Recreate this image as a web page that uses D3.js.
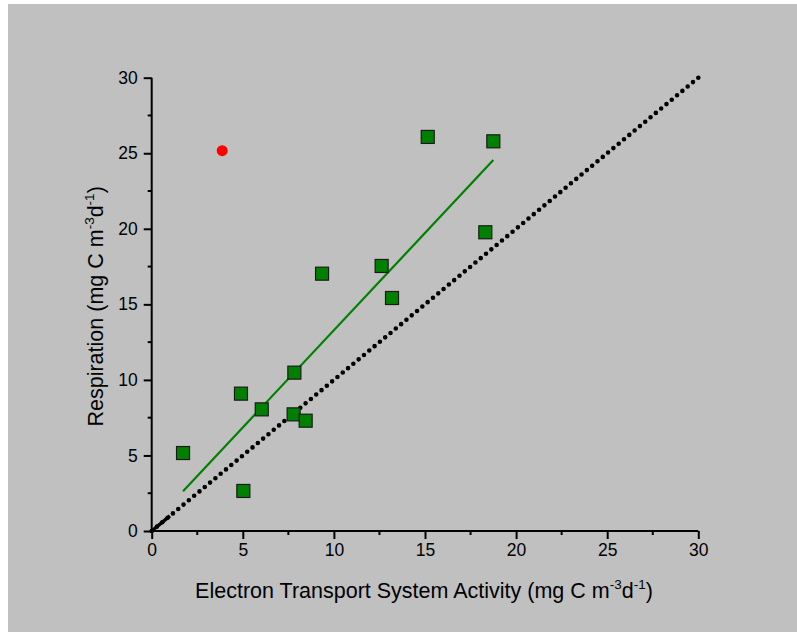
<!DOCTYPE html>
<html><head><meta charset="utf-8">
<script src="https://cdn.jsdelivr.net/npm/d3@7"></script>
<style>body{margin:0;background:#fff}svg{display:block}text{font-family:"Liberation Sans",Arial,sans-serif;fill:#000}</style>
</head><body>
<svg id="c" width="797" height="632"></svg>
<script>
const squareX = [1.72, 5.03, 4.90, 6.04, 7.83, 7.79, 8.45, 9.35, 12.62, 13.19, 15.15, 18.31, 18.75];
const squareY = [5.16, 2.65, 9.09, 8.05, 10.48, 7.72, 7.30, 17.03, 17.54, 15.42, 26.08, 19.77, 25.79];
const outlierX = [3.87];
const outlierY = [25.17];
const fitX = [1.72, 18.75];
const fitY = [2.63, 24.55];
const oneToOneX = [0, 30];
const oneToOneY = [0, 30];
const majorTicks = [0, 5, 10, 15, 20, 25, 30];
const minorTicks = [2.5, 7.5, 12.5, 17.5, 22.5, 27.5];

const svg = d3.select("#c");
svg.append("rect").attr("x", 8).attr("y", 4).attr("width", 789).attr("height", 628).attr("fill", "#c0c0c0");

const x = d3.scaleLinear().domain([0, 30]).range([151.7, 698.3]);
const y = d3.scaleLinear().domain([0, 30]).range([531, 77.7]);

// axes
const xAxis = d3.axisBottom(x).tickValues(majorTicks).tickSize(8).tickPadding(5).tickFormat(d3.format("d"));
const yAxis = d3.axisLeft(y).tickValues(majorTicks).tickSize(8).tickPadding(6).tickFormat(d3.format("d"));
const gx = svg.append("g").attr("transform", `translate(0,${y(0)})`).call(xAxis);
const gy = svg.append("g").attr("transform", `translate(${x(0)},0)`).call(yAxis);
gx.append("g").selectAll("line").data(minorTicks).join("line")
  .attr("x1", d => x(d)).attr("x2", d => x(d)).attr("y1", 0).attr("y2", 4);
gy.append("g").selectAll("line").data(minorTicks).join("line")
  .attr("y1", d => y(d)).attr("y2", d => y(d)).attr("x1", 0).attr("x2", -4);
[gx, gy].forEach(g => {
  g.select(".domain").attr("stroke", "#000").attr("stroke-width", 2);
  g.selectAll("line").attr("stroke", "#000").attr("stroke-width", 2);
  g.selectAll("text").attr("font-size", 17.5).attr("font-family", '"Liberation Sans",Arial,sans-serif').attr("fill", "#000");
});
gx.select(".domain").attr("d", `M${x(0)},0H${x(30)}`);
gy.select(".domain").attr("d", `M0,${y(0)}V${y(30)}`);

// 1:1 dotted line
const line = d3.line().x(d => x(d[0])).y(d => y(d[1]));
const diag = oneToOneX.map((v, i) => [v, oneToOneY[i]]);
const diagPath = svg.append("path").attr("d", line(diag)).attr("fill", "none").attr("stroke", "#000")
  .attr("stroke-width", 4.6).attr("stroke-linecap", "round");
const L = diagPath.node().getTotalLength();
diagPath.attr("stroke-dasharray", `0 ${L / 103}`);
svg.append("path").attr("d", line([[0, 0], [1, 1]])).attr("fill", "none").attr("stroke", "#000")
  .attr("stroke-width", 3.5);

// fit line
svg.append("path").attr("d", line(fitX.map((v, i) => [v, fitY[i]]))).attr("fill", "none")
  .attr("stroke", "#008000").attr("stroke-width", 2.2);

// squares
const s = 13;
svg.append("g").selectAll("rect").data(squareX.map((v, i) => [v, squareY[i]])).join("rect")
  .attr("x", d => x(d[0]) - s / 2).attr("y", d => y(d[1]) - s / 2)
  .attr("width", s).attr("height", s).attr("fill", "#008000").attr("stroke", "#1a1a1a").attr("stroke-width", 1.2);

// outlier
svg.append("g").selectAll("circle").data(outlierX.map((v, i) => [v, outlierY[i]])).join("circle")
  .attr("cx", d => x(d[0])).attr("cy", d => y(d[1])).attr("r", 5.5).attr("fill", "#ff0000");

// axis titles
const fs = 21.5, ss = 13.5, up = 9;
const xt = svg.append("text").attr("x", (x(0) + x(30)) / 2 - 1).attr("y", 598).attr("text-anchor", "middle").attr("font-size", fs);
xt.append("tspan").text("Electron Transport System Activity (mg C m");
xt.append("tspan").attr("font-size", ss).attr("dy", -up).text("-3");
xt.append("tspan").attr("dy", up).text("d");
xt.append("tspan").attr("font-size", ss).attr("dy", -up).text("-1");
xt.append("tspan").attr("dy", up).text(")");

const yt = svg.append("text").attr("transform", `translate(103,${(y(0) + y(30)) / 2 + 2}) rotate(-90)`)
  .attr("text-anchor", "middle").attr("font-size", fs);
yt.append("tspan").text("Respiration (mg C m");
yt.append("tspan").attr("font-size", ss).attr("dy", -up).text("-3");
yt.append("tspan").attr("dy", up).text("d");
yt.append("tspan").attr("font-size", ss).attr("dy", -up).text("-1");
yt.append("tspan").attr("dy", up).text(")");
</script>
</body></html>
